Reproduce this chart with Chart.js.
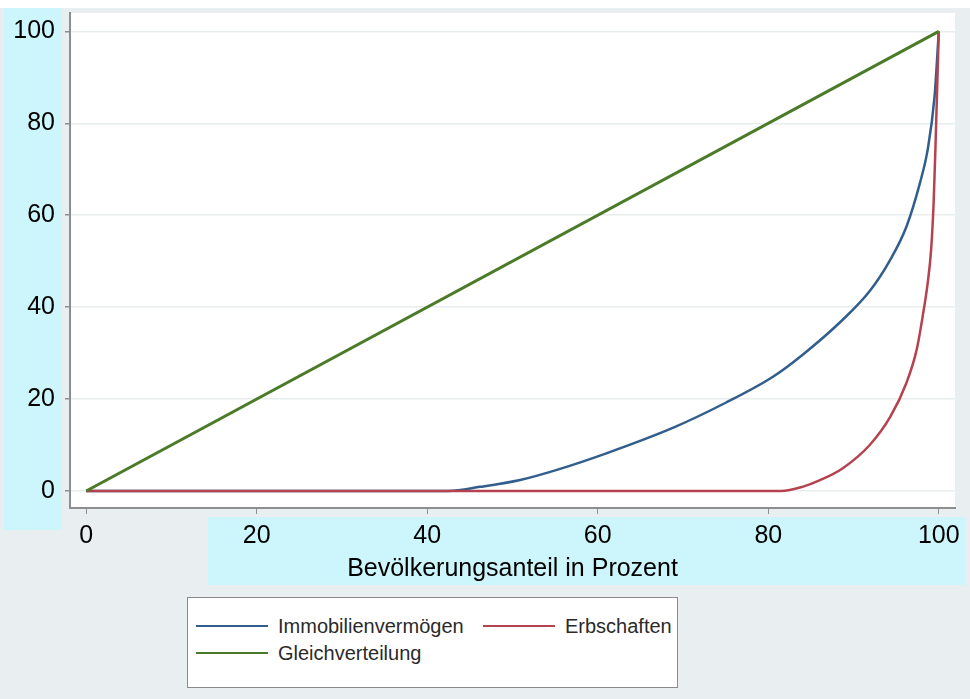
<!DOCTYPE html>
<html>
<head>
<meta charset="utf-8">
<script src="https://cdn.jsdelivr.net/npm/chart.js@4.4.1/dist/chart.umd.min.js"></script>
<style>
  body { margin: 0; background: #e9eff0; }
  #wrap { position: relative; width: 970px; height: 699px; }
  #legend {
    position: absolute;
    left: 187px;
    top: 597px;
    width: 489px;
    height: 89px;
    background: #fff;
    border: 1.5px solid #8a8a8a;
    font-family: "Liberation Sans", Arial, sans-serif;
    font-size: 20px;
    color: #2a2a2a;
  }
  .item { position: absolute; height: 24px; line-height: 24px; white-space: nowrap; }
  .item span.swatch { position: absolute; left: 0; top: 11px; width: 72px; height: 2px; }
  .item span.txt { position: absolute; left: 82px; top: 0; }
</style>
</head>
<body>
<div id="wrap">
  <canvas id="lorenzChart"></canvas>
  <div id="legend"></div>
</div>
<script>
// ticks
const xTicks = [0, 20, 40, 60, 80, 100];
const yTicks = [0, 20, 40, 60, 80, 100];

// Gleichverteilung
const gleichX = [0, 100];
const gleichY = [0, 100];

// Immobilienvermögen
const immoX = [0, 42.5, 46.2, 50.9, 55.2, 61, 69, 75, 80.5, 84, 88.7, 91.9, 94.3, 96.2, 97.8, 98.7, 99.5, 100];
const immoY = [0, 0, 0.9, 2.4, 4.6, 8.2, 13.9, 19.2, 24.8, 29.6, 37.2, 43.5, 50.3, 57.5, 67.1, 74.3, 85.8, 100];

// Erbschaften
const erbX = [0, 81.5, 84, 86, 88.7, 91.9, 94.3, 96.2, 97.4, 98.1, 98.7, 99.1, 99.4, 99.6, 100];
const erbY = [0, 0, 0.9, 2.3, 4.9, 10.0, 16.1, 23.5, 30.7, 37.9, 45.3, 52.5, 63, 74.3, 100];

const toPoints = (xs, ys) => xs.map((x, i) => ({ x: x, y: ys[i] }));

const backdrop = {
  id: "backdrop",
  beforeDraw(chart) {
    const c = chart.ctx;
    const a = chart.chartArea;
    c.save();
    c.fillStyle = "#e9eff0";
    c.fillRect(0, 0, chart.width, chart.height);
    c.fillStyle = "#ffffff";
    c.fillRect(0, 0, chart.width, 8);
    c.fillStyle = "#ccf6fb";
    c.fillRect(4, 8, 58, 522);
    c.fillRect(208, 517, 757, 68);
    c.fillStyle = "#ffffff";
    c.fillRect(a.left, a.top, a.right - a.left, a.bottom - a.top);
    c.restore();
  },
};

const ctx = document.getElementById("lorenzChart");

const lorenzChart = new Chart(ctx, {
  type: "line",
  data: {
    datasets: [
      {
        label: "Gleichverteilung",
        data: toPoints(gleichX, gleichY),
        borderColor: "#4b7b29",
        borderWidth: 3,
        pointRadius: 0,
        order: 0,
      },
      {
        label: "Erbschaften",
        data: toPoints(erbX, erbY),
        borderColor: "#b5434f",
        borderWidth: 2.5,
        pointRadius: 0,
        cubicInterpolationMode: "monotone",
        order: 1,
      },
      {
        label: "Immobilienvermögen",
        data: toPoints(immoX, immoY),
        borderColor: "#315e8c",
        borderWidth: 2.5,
        pointRadius: 0,
        cubicInterpolationMode: "monotone",
        order: 2,
      },
    ],
  },
  options: {
    responsive: true,
    maintainAspectRatio: false,
    animation: false,
    layout: {
      padding: { left: 0, right: 15, top: 13, bottom: 111 },
    },
    plugins: {
      legend: { display: false },
      tooltip: { enabled: false },
    },
    scales: {
      x: {
        type: "linear",
        min: -1.9,
        max: 101.9,
        afterBuildTicks: (scale) => {
          scale.ticks = xTicks.map((v) => ({ value: v }));
        },
        afterFit: (scale) => {
          scale.height = 80;
          scale.paddingLeft = 0;
          scale.paddingRight = 0;
        },
        border: { color: "#8e8e8e", width: 2 },
        grid: {
          drawOnChartArea: false,
          drawTicks: true,
          tickLength: 6,
          tickColor: "#8e8e8e",
        },
        ticks: {
          color: "#000",
          padding: 7,
          maxRotation: 0,
          font: { size: 25, family: "Liberation Sans" },
        },
        title: {
          display: true,
          text: "Bevölkerungsanteil in Prozent",
          color: "#000",
          font: { size: 25, family: "Liberation Sans" },
        },
      },
      y: {
        type: "linear",
        min: -3.7,
        max: 104,
        afterBuildTicks: (scale) => {
          scale.ticks = yTicks.map((v) => ({ value: v }));
        },
        afterFit: (scale) => {
          scale.width = 70;
          scale.paddingTop = 0;
          scale.paddingBottom = 0;
        },
        border: { color: "#8e8e8e", width: 2 },
        grid: {
          color: "#e8eded",
          lineWidth: 1.5,
          tickLength: 5,
          tickColor: "#8e8e8e",
        },
        ticks: {
          color: "#000",
          padding: 10,
          font: { size: 25, family: "Liberation Sans" },
        },
      },
    },
  },
  plugins: [backdrop],
});

// legend box built from the datasets
const legendEl = document.getElementById("legend");
const legendSlots = [
  { label: "Immobilienvermögen", left: 8, top: 16 },
  { label: "Erbschaften", left: 295, top: 16 },
  { label: "Gleichverteilung", left: 8, top: 43 },
];
legendSlots.forEach((slot) => {
  const ds = lorenzChart.data.datasets.find((d) => d.label === slot.label);
  const item = document.createElement("div");
  item.className = "item";
  item.style.left = slot.left + "px";
  item.style.top = slot.top + "px";
  item.innerHTML =
    '<span class="swatch" style="background:' + ds.borderColor + '"></span>' +
    '<span class="txt">' + ds.label + "</span>";
  legendEl.appendChild(item);
});
</script>
</body>
</html>
